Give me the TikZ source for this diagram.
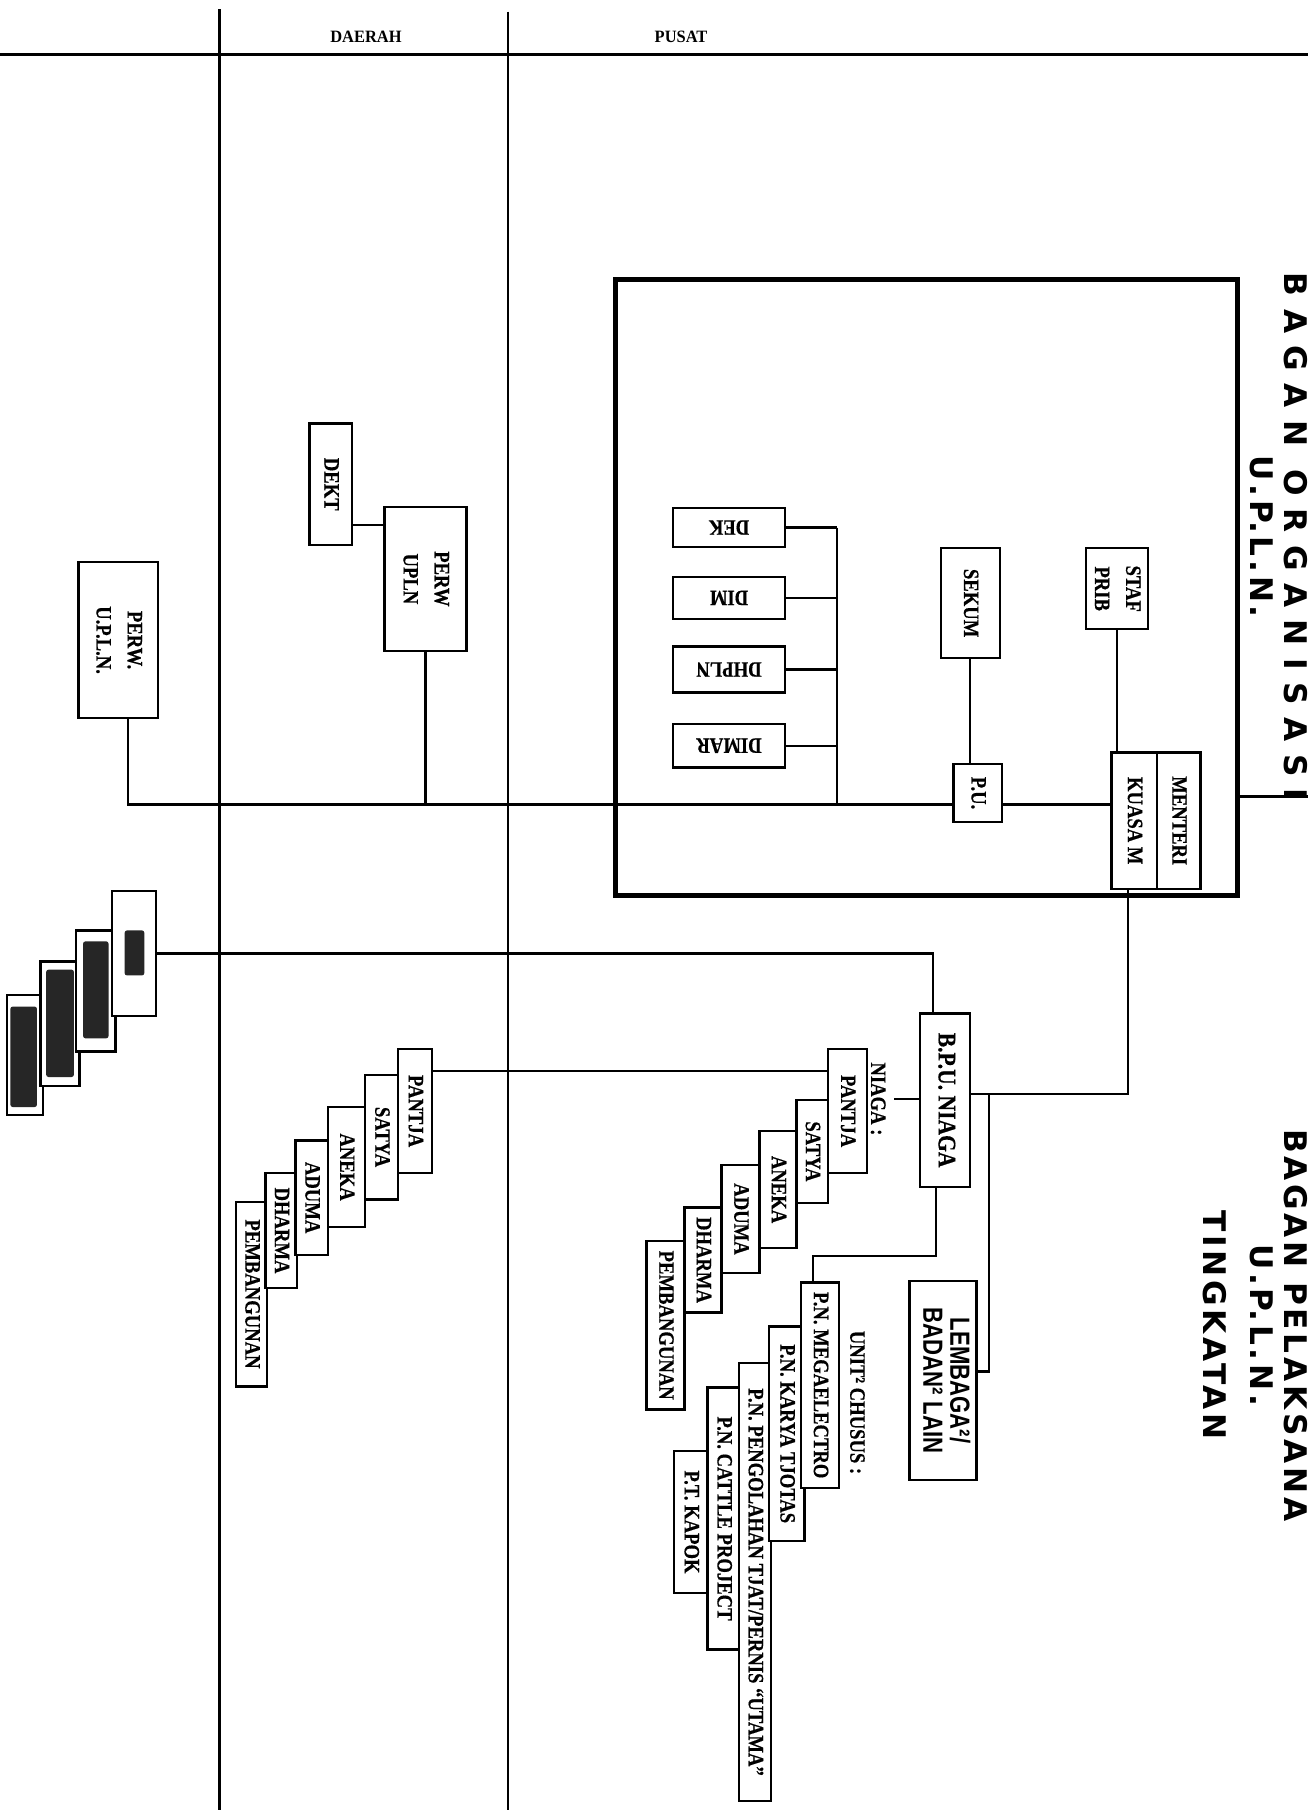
\documentclass[tikz,border=0pt]{standalone}
\usepackage{fontspec}
\usepackage{graphicx}
\setmainfont{Liberation Serif}
\newfontfamily\boxfont[FakeStretch=0.85, FakeBold=0.5]{Liberation Serif Bold}
\newfontfamily\headfont[FakeStretch=0.95]{Liberation Serif Bold}
\newfontfamily\lembfont[FakeStretch=0.8]{Liberation Sans Bold}
\newfontfamily\orgfont[LetterSpace=40]{DejaVu Sans Bold}
\newfontfamily\pelfont[LetterSpace=12]{DejaVu Sans Bold}
\usetikzlibrary{calc}

\newcommand{\vtext}[1]{\rotatebox{-90}{\begin{tabular}{@{}c@{}}#1\end{tabular}}}

\begin{document}
\begin{tikzpicture}[
  x=1pt, y=-1pt,
  unit/.style={draw, line width=2pt, fill=white, inner sep=0pt, font=\boxfont\fontsize{19}{27}\selectfont},
  smudge/.style={draw, line width=2pt, fill=white, inner sep=0pt},
  blot/.style={fill=black!85, rounded corners=2pt},
  frame/.style={draw, line width=4.5pt, inner sep=0pt},
  head/.style={font=\headfont\fontsize{15}{18}\selectfont},
  lbl/.style={inner sep=1pt, font=\boxfont\fontsize{19}{27}\selectfont},
  title/.style={inner sep=0pt, font=\fontsize{27}{30}\selectfont},
  link/.style={line width=2pt},
  rule/.style={line width=2.2pt}
]
\path[fill=white, use as bounding box] (0,0) rectangle (1133,1568);

% columns
\draw[rule] (0,47) -- (1133,47);
\draw[rule] (190,8) -- (190,1568);
\draw[rule] (440,10) -- (440,1568);
\node[head] (daerah) at (317,32) {DAERAH};
\node[head] (pusat) at (590,32) {PUSAT};

% titles
\node[title] (titleorg) at (1104,465) {\vtext{\orgfont BAGAN ORGANISASI\\\pelfont U.P.L.N.}};
\node[title] (titlepel) at (1084,1148) {\vtext{\pelfont BAGAN PELAKSANA\\\pelfont U.P.L.N.\\[10pt]\pelfont TINGKATAN}};

% organisasi
\node[frame, minimum width=539pt, minimum height=534pt] (frame) at (802.5,509) {};
\coordinate (edgeR) at (1133,690);
\draw[link] (frame.east |- edgeR) -- (edgeR);

\node[unit, minimum width=97pt, minimum height=34pt] (dek) at (631.5,457) {\rotatebox{180}{DEK}};
\node[unit, minimum width=97pt, minimum height=36pt] (dim) at (631.5,518) {\rotatebox{180}{DIM}};
\node[unit, minimum width=97pt, minimum height=40pt] (dhpln) at (631.5,580) {\rotatebox{180}{DHPLN}};
\node[unit, minimum width=97pt, minimum height=38pt] (dimar) at (631.5,646) {\rotatebox{180}{DIMAR}};

\node[unit, minimum width=51pt, minimum height=95pt] (sekum) at (840.5,522.5) {\vtext{SEKUM}};
\node[unit, minimum width=42pt, minimum height=50pt] (pu) at (847,687) {\vtext{P.U.}};
\node[unit, minimum width=45pt, minimum height=70pt] (staf) at (967.5,510) {\vtext{STAF\\PRIB}};
\node[unit, minimum width=39pt, minimum height=118pt] (kuasa) at (982.5,711) {\vtext{KUASA M}};
\node[unit, minimum width=38pt, minimum height=118pt] (menteri) at (1021,711) {\vtext{MENTERI}};

\node[unit, minimum width=69pt, minimum height=135pt] (perwa) at (102.5,554.5) {\vtext{PERW.\\U.P.L.N.}};
\node[unit, minimum width=37pt, minimum height=105pt] (dekt) at (286.5,419.5) {\vtext{DEKT}};
\node[unit, minimum width=71pt, minimum height=125pt] (perwb) at (368.5,501.5) {\vtext{PERW\\UPLN}};

\coordinate (mainbus) at ([yshift=-10pt]pu.west);
\coordinate (dekbus) at (725,697);
\draw[link] ([xshift=8.5pt]perwa.south) |- (mainbus);
\draw[link] (perwb.south) -- (perwb.south |- mainbus);
\draw[link] ([yshift=-35.5pt]dekt.east) -- ([yshift=-35.5pt]dekt.east -| perwb.west);
\foreach \n in {dek,dim,dhpln,dimar}
  \draw[link] (\n.east) -- (\n.east -| dekbus);
\draw[link] (dek.east -| dekbus) -- (dekbus);
\draw[link] (mainbus -| pu.east) -- (mainbus -| kuasa.west);
\draw[link] (sekum.south) -- (sekum.south |- pu.north);
\draw[link] (staf.south) -- (staf.south |- kuasa.north);

% pelaksana
\node[unit, font=\boxfont\fontsize{22}{27}\selectfont, minimum width=43pt, minimum height=150pt] (bpu) at (818.5,953) {\vtext{B.P.U. NIAGA}};
\node[unit, font=\lembfont\fontsize{24}{22}\selectfont, minimum width=58pt, minimum height=172pt] (lembaga) at (817,1196) {\vtext{LEMBAGA²/\\BADAN² LAIN}};
\node[lbl] (niagalbl) at (760,952) {\vtext{NIAGA :}};
\node[lbl] (unitlbl) at (742,1215) {\vtext{UNIT² CHUSUS :}};

\coordinate (lembus) at (857,948);
\draw[link] ([xshift=-5.5pt]kuasa.south) |- ([yshift=5pt]bpu.east);
\draw[link] (lembus) |- ([yshift=8pt]lembaga.east);
\draw[link] (bpu.west |- niagalbl.east) -- (niagalbl.east);

\foreach \n/\t/\xa/\xb/\ya/\yb in {
  npemb/PEMBANGUNAN/560/593/1075/1221,
  ndharma/DHARMA/593/625/1046/1137,
  naduma/ADUMA/625/658/1009/1103,
  naneka/ANEKA/658/690/980/1081,
  nsatya/SATYA/690/717/953/1042,
  npantja/PANTJA/717/751/909/1016}
  \node[unit, minimum width={(\xb-\xa)*1pt}, minimum height={(\yb-\ya)*1pt}]
    (\n) at ({(\xa+\xb)/2},{(\ya+\yb)/2}) {\vtext{\t}};

\foreach \n/\t/\xa/\xb/\ya/\yb in {
  dpemb/PEMBANGUNAN/205/231/1041/1201,
  ddharma/DHARMA/231/256/1016/1116,
  daduma/ADUMA/256/284/988/1087,
  daneka/ANEKA/284/316/959/1063,
  dsatya/SATYA/316/345/931/1039,
  dpantja/PANTJA/345/374/909/1016}
  \node[unit, minimum width={(\xb-\xa)*1pt}, minimum height={(\yb-\ya)*1pt}]
    (\n) at ({(\xa+\xb)/2},{(\ya+\yb)/2}) {\vtext{\t}};

\draw[link] ([yshift=34.5pt]dpantja.east) -- ([yshift=34.5pt]dpantja.east -| npantja.west);

\node[unit, minimum width=29pt, minimum height=123pt] (kapok) at (598.5,1318.5) {\vtext{P.T. KAPOK}};
\node[unit, minimum width=28pt, minimum height=227pt] (cattle) at (627,1315.5) {\vtext{P.N. CATTLE PROJECT}};
\node[unit, minimum width=28pt, minimum height=379pt] (pengolahan) at (654,1370.5) {\vtext{P.N. PENGOLAHAN TJAT/PERNIS “UTAMA”}};
\node[unit, minimum width=31pt, minimum height=186pt] (karya) at (681.5,1242) {\vtext{P.N. KARYA TJOTAS}};
\node[unit, minimum width=33pt, minimum height=178pt] (mega) at (710.5,1200) {\vtext{P.N. MEGAELECTRO}};

\coordinate (unitbus) at (704,1088);
\draw[link] ([xshift=-7.5pt]bpu.south) |- (unitbus) -- (unitbus |- mega.north);

% smudged stack, far left
\node[smudge, minimum width=31pt, minimum height=104pt] (sd) at (21.5,914) {};
\node[smudge, minimum width=34pt, minimum height=108pt] (sc) at (52,887) {};
\node[smudge, minimum width=34pt, minimum height=105pt] (sb) at (83,858.5) {};
\node[smudge, minimum width=38pt, minimum height=108pt] (sa) at (116,826) {};
\fill[blot] ($(sd.center)+(-12.5,-42)$) rectangle ($(sd.center)+(10.5,45)$);
\fill[blot] ($(sc.center)+(-12,-47)$) rectangle ($(sc.center)+(12,46)$);
\fill[blot] ($(sb.center)+(-11,-43)$) rectangle ($(sb.center)+(11,41)$);
\fill[blot] ($(sa.center)+(-8,-20)$) rectangle ($(sa.center)+(9,19)$);
\draw[link] (sa.east) -| ([xshift=-10.5pt]bpu.north);
\end{tikzpicture}
\end{document}
